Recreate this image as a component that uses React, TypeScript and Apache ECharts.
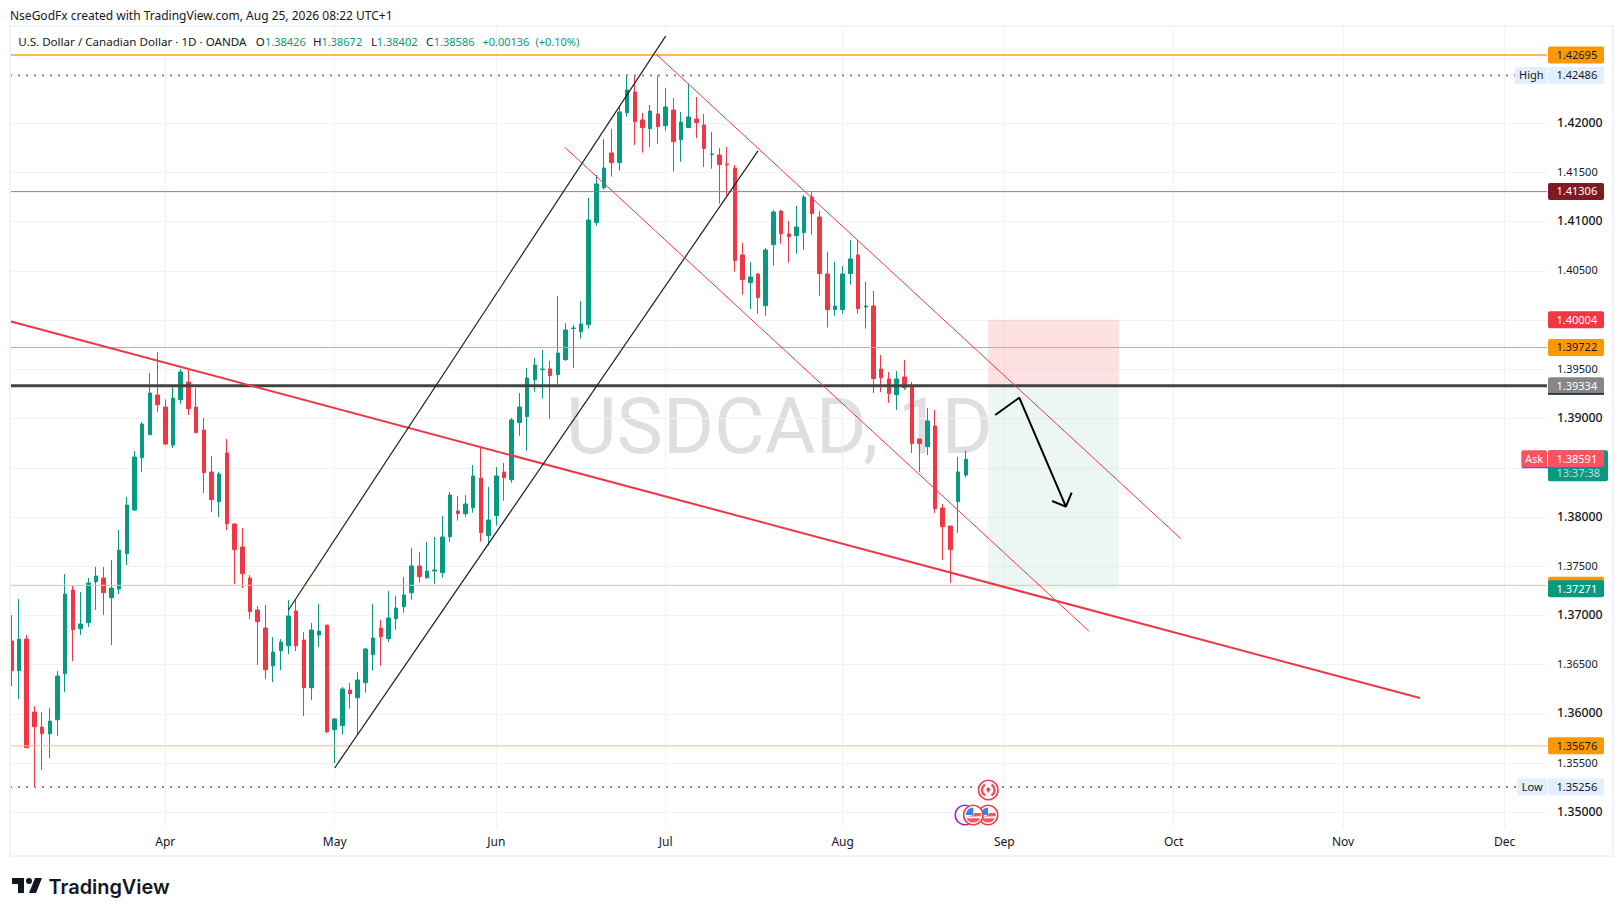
import React, { useEffect, useRef } from "react";
import * as echarts from "echarts";

const WIDTH = 1623;
const HEIGHT = 916;
const UP = "#089981";
const DOWN = "#f23645";
const FONT = '"Noto Sans", "Open Sans", sans-serif';

// Trading-day index → month label (index 0 = 2026-03-04, weekdays only)
const monthIndexes = [20, 42, 63, 85, 108, 129, 151, 173, 194];
const monthNames = ["Apr", "May", "Jun", "Jul", "Aug", "Sep", "Oct", "Nov", "Dec"];
const priceTicks = [1.35, 1.355, 1.36, 1.365, 1.37, 1.375, 1.38, 1.385, 1.39, 1.395, 1.4, 1.405, 1.41, 1.415, 1.42, 1.425];
const majorPriceLabels = [1.35, 1.36, 1.37, 1.38, 1.39, 1.41, 1.42];
const minorPriceLabels = [1.355, 1.365, 1.375, 1.395, 1.405, 1.415];

// open, close, low, high per trading day
const candles: number[][] = [
  [1.3674, 1.36438, 1.36283, 1.37004], [1.36438, 1.3676, 1.36151, 1.37167], [1.3676, 1.35656, 1.35656, 1.36801], [1.36018, 1.35869, 1.35256, 1.36079],
  [1.35866, 1.35798, 1.35429, 1.36018], [1.35798, 1.35927, 1.35551, 1.36059], [1.35941, 1.36384, 1.35775, 1.36435], [1.36408, 1.37217, 1.36222, 1.37421],
  [1.37258, 1.36855, 1.36537, 1.37299], [1.36865, 1.36913, 1.36801, 1.37238], [1.36926, 1.37329, 1.36882, 1.3738], [1.37343, 1.374, 1.37055, 1.37492],
  [1.3738, 1.37231, 1.37004, 1.37492], [1.3718, 1.37278, 1.36699, 1.37563], [1.37268, 1.37664, 1.37217, 1.37868], [1.37627, 1.38122, 1.37512, 1.38203],
  [1.38071, 1.38609, 1.38061, 1.3867], [1.38602, 1.38945, 1.38457, 1.38965], [1.38836, 1.3926, 1.38836, 1.39463], [1.39239, 1.39141, 1.39066, 1.39676],
  [1.39117, 1.38741, 1.38731, 1.39195], [1.38731, 1.39209, 1.38701, 1.39341], [1.39192, 1.39473, 1.39148, 1.39503], [1.39371, 1.391, 1.39036, 1.39493],
  [1.39117, 1.38857, 1.38857, 1.3931], [1.38884, 1.3845, 1.38244, 1.39006], [1.38457, 1.38176, 1.3805, 1.38619], [1.38155, 1.38437, 1.38, 1.38457],
  [1.3865, 1.37932, 1.37868, 1.38792], [1.37929, 1.37668, 1.37319, 1.37939], [1.37695, 1.37424, 1.37278, 1.37888], [1.3738, 1.37038, 1.36963, 1.3741],
  [1.37055, 1.36936, 1.36496, 1.37095], [1.36872, 1.36449, 1.36354, 1.37106], [1.36489, 1.36628, 1.36323, 1.3678], [1.36642, 1.3673, 1.36445, 1.3676],
  [1.36692, 1.36994, 1.36608, 1.37156], [1.37045, 1.36692, 1.36638, 1.37156], [1.3675, 1.36266, 1.35978, 1.36831], [1.36266, 1.36852, 1.3614, 1.36923],
  [1.36801, 1.36841, 1.36679, 1.37116], [1.36902, 1.35819, 1.35805, 1.36902], [1.35839, 1.35948, 1.35501, 1.35958], [1.3588, 1.36253, 1.35789, 1.36273],
  [1.36242, 1.36205, 1.36053, 1.36314], [1.36164, 1.36344, 1.35789, 1.36425], [1.36317, 1.36659, 1.36215, 1.36669], [1.36601, 1.36771, 1.36439, 1.37116],
  [1.36872, 1.36784, 1.3649, 1.36954], [1.36764, 1.36974, 1.36733, 1.37248], [1.36967, 1.37075, 1.36855, 1.37197], [1.37089, 1.37208, 1.37028, 1.3739],
  [1.37231, 1.37502, 1.3716, 1.37685], [1.37502, 1.37394, 1.37333, 1.37644], [1.37384, 1.37451, 1.37374, 1.37746], [1.37451, 1.37462, 1.37323, 1.37797],
  [1.37434, 1.37797, 1.37384, 1.3801], [1.378, 1.38224, 1.37749, 1.38254], [1.38061, 1.38034, 1.37963, 1.38213], [1.38034, 1.38132, 1.38003, 1.38224],
  [1.38095, 1.38417, 1.38044, 1.38528], [1.38396, 1.37841, 1.37749, 1.38715], [1.3781, 1.3797, 1.37709, 1.38305], [1.38014, 1.38417, 1.37912, 1.38508],
  [1.38457, 1.384, 1.38166, 1.38549], [1.38379, 1.38986, 1.38349, 1.39006], [1.38959, 1.39118, 1.38826, 1.3926], [1.39019, 1.39412, 1.38674, 1.39514],
  [1.39395, 1.39544, 1.39273, 1.39616], [1.39497, 1.39504, 1.39202, 1.39697], [1.39504, 1.39436, 1.38999, 1.39585], [1.39446, 1.39666, 1.39324, 1.40245],
  [1.39599, 1.399, 1.39588, 1.39971], [1.39914, 1.3992, 1.39517, 1.39951], [1.39883, 1.39961, 1.39812, 1.40195], [1.39954, 1.41018, 1.39914, 1.41241],
  [1.40991, 1.41384, 1.4096, 1.41475], [1.41346, 1.41546, 1.41326, 1.41841], [1.41699, 1.416, 1.41458, 1.41942], [1.416, 1.42115, 1.41519, 1.42176],
  [1.42108, 1.42339, 1.42068, 1.42484], [1.42318, 1.42017, 1.4178, 1.42486], [1.42034, 1.41956, 1.41702, 1.42105], [1.41946, 1.42125, 1.41759, 1.42186],
  [1.42095, 1.41966, 1.41793, 1.42486], [1.41976, 1.42166, 1.41925, 1.42359], [1.42135, 1.41814, 1.41509, 1.42257], [1.41834, 1.42013, 1.4161, 1.42115],
  [1.41956, 1.42064, 1.41956, 1.42403], [1.42044, 1.42007, 1.41851, 1.42267], [1.41983, 1.41743, 1.41556, 1.42095], [1.41682, 1.41688, 1.41539, 1.41912],
  [1.41678, 1.4158, 1.41184, 1.41749], [1.41587, 1.4158, 1.41265, 1.41759], [1.41546, 1.40605, 1.40493, 1.41577], [1.40662, 1.40412, 1.40259, 1.40784],
  [1.40381, 1.40439, 1.40114, 1.40591], [1.40469, 1.40229, 1.40063, 1.40479], [1.40147, 1.40713, 1.40046, 1.40733], [1.40767, 1.41099, 1.40554, 1.41119],
  [1.41109, 1.40879, 1.40777, 1.41119], [1.40876, 1.40848, 1.40584, 1.41008], [1.40859, 1.40947, 1.40676, 1.4116], [1.40889, 1.41251, 1.40716, 1.41272],
  [1.41251, 1.41082, 1.40869, 1.41306], [1.41048, 1.40473, 1.40249, 1.41109], [1.40469, 1.40107, 1.39924, 1.40693], [1.40107, 1.40144, 1.40046, 1.40591],
  [1.40107, 1.40469, 1.40066, 1.4055], [1.40473, 1.40622, 1.40361, 1.40815], [1.40662, 1.40117, 1.40066, 1.40815], [1.40134, 1.40144, 1.39914, 1.40388],
  [1.40144, 1.39406, 1.3926, 1.40296], [1.39504, 1.39416, 1.3927, 1.39646], [1.39403, 1.39254, 1.39159, 1.39474], [1.39243, 1.39403, 1.39088, 1.39484],
  [1.39423, 1.39314, 1.39291, 1.39596], [1.39331, 1.38746, 1.38651, 1.39372], [1.38793, 1.38746, 1.38458, 1.38793], [1.38715, 1.38976, 1.3863, 1.39108],
  [1.38925, 1.38085, 1.38041, 1.39088], [1.38092, 1.37902, 1.37564, 1.38133], [1.37909, 1.37669, 1.3733, 1.37909], [1.38156, 1.38458, 1.37838, 1.3861],
  [1.38426, 1.38586, 1.38402, 1.38672],
];

// Horizontal price levels
const levelTop = 1.42695;
const levelHigh = 1.42486;
const levelMaroon = 1.41306;
const levelStop = 1.40004;
const levelOrange = 1.39722;
const levelEntry = 1.39334;
const levelAsk = 1.38591;
const levelOrangeLow = 1.37306;
const levelTarget = 1.37271;
const levelBottom = 1.35676;
const levelLow = 1.35256;

// Trend drawings: [trading-day index, price]
const redLongLine = [[-0.17, 1.39988], [183, 1.36161]];
const blackUpper = [[36, 1.37055], [85, 1.42885]];
const blackLower = [[42, 1.3545], [97, 1.41719]];
const redUpper = [[83.74, 1.42704], [151.9, 1.37782]];
const redLower = [[71.95, 1.41753], [139.98, 1.36842]];
const arrowPath = [[127.82, 1.39036], [130.94, 1.39212], [137, 1.38105]];
const arrowHead = [[135.2, 1.38163], [137, 1.38105], [137.75, 1.38247]];
const positionX = [126.9, 143.9];

const headerText = "NseGodFx created with TradingView.com, Aug 25, 2026 08:22 UTC+1";
const symbolText = "U.S. Dollar / Canadian Dollar · 1D · OANDA";
const legendPairs = [
  ["O", "1.38426"],
  ["H", "1.38672"],
  ["L", "1.38402"],
  ["C", "1.38586"],
];
const legendChange = "+0.00136";
const legendPercent = "(+0.10%)";
const watermark = "USDCAD, 1D";
const countdown = "13:37:38";

const X_MIN = -0.174;
const X_MAX = 199.5;
const Y_MIN = 1.348405;
const Y_MAX = 1.429784;

function hLine(price: number, color: string, width: number, type: any = "solid") {
  return {
    type: "line",
    data: [[X_MIN, price], [X_MAX, price]],
    symbol: "none",
    silent: true,
    z: 3,
    lineStyle: { color, width, type },
  };
}
function trend(data: number[][], color: string, width: number) {
  return { type: "line", data, symbol: "none", silent: true, z: 4, lineStyle: { color, width } };
}

const LOGO_D = "M14 6H2v6h6v9h6V6Zm12 15h-7l6-15h7l-6 15Zm-7-9a3 3 0 1 0 0-6 3 3 0 0 0 0 6Z";
echarts.graphic.registerShape("tvlogo", echarts.graphic.extendPath(LOGO_D as any, {} as any) as any);

function txt(text: string, x: number, y: number, fill: string, size = 11, align = "left", weight: any = "normal", z = 20, family = FONT) {
  return {
    type: "text",
    z,
    silent: true,
    style: { text, x, y, fill, font: `${weight} ${size}px ${family}`, textAlign: align, verticalAlign: "middle", textVerticalAlign: "middle" },
  };
}
function box(x: number, y: number, width: number, height: number, fill: string, z = 19, r = 2) {
  return { type: "rect", z, silent: true, shape: { x, y, width, height, r }, style: { fill } };
}
function sector(cx: number, cy: number, r: number, r0: number, a0: number, a1: number, fill: string, z: number) {
  return {
    type: "sector",
    z,
    silent: true,
    shape: { cx, cy, r, r0, startAngle: (a0 * Math.PI) / 180, endAngle: (a1 * Math.PI) / 180, clockwise: true },
    style: { fill },
  };
}
function usIcon(cx: number, cy: number, z: number) {
  return [
    { type: "circle", z, silent: true, shape: { cx, cy, r: 9.7 }, style: { fill: "#ffffff", stroke: DOWN, lineWidth: 1.6 } },
    sector(cx, cy, 7.5, 0, 20, 160, "#f7525f", z + 0.1),
    box(cx - 7, cy + 1.5, 14, 1.8, "#ffffff", z + 0.2, 0),
    sector(cx, cy, 7.5, 0, 180, 270, "#2f86ec", z + 0.1),
    box(cx + 0.5, cy - 2, 7, 3.4, "#f7525f", z + 0.1, 0),
  ];
}
function caIcon(cx: number, cy: number, z: number) {
  return [
    { type: "circle", z, silent: true, shape: { cx, cy, r: 9.7 }, style: { fill: "#ffffff", stroke: DOWN, lineWidth: 1.6 } },
    sector(cx, cy, 7.5, 5, 120, 240, "#f7525f", z + 0.1),
    sector(cx, cy, 7.5, 5, -60, 60, "#f7525f", z + 0.1),
    { type: "polygon", z: z + 0.2, silent: true, shape: { points: [[cx, cy - 3], [cx + 2.5, cy], [cx + 0.8, cy + 0.8], [cx + 0.8, cy + 2.5], [cx - 0.8, cy + 2.5], [cx - 0.8, cy + 0.8], [cx - 2.5, cy]] }, style: { fill: "#f23645" } },
  ];
}

export default function App() {
  const ref = useRef<HTMLDivElement>(null);
  useEffect(() => {
    document.body.style.margin = "0";
    const chart = echarts.init(ref.current!, undefined, { renderer: "svg" });
    const option: any = {
      animation: false,
      backgroundColor: "#ffffff",
      grid: { left: 10, right: 76, top: 27, bottom: 88, containLabel: false },
      xAxis: {
        type: "value",
        min: X_MIN,
        max: X_MAX,
        axisLine: { show: false },
        axisTick: { show: false, customValues: monthIndexes },
        splitLine: { show: true, lineStyle: { color: "#f2f3f5", width: 1 } },
        axisLabel: {
          customValues: monthIndexes,
          color: "#131722",
          fontFamily: FONT,
          fontSize: 12,
          margin: 7,
          formatter: (v: number) => monthNames[monthIndexes.indexOf(v)] ?? "",
        },
      },
      yAxis: {
        type: "value",
        position: "right",
        min: Y_MIN,
        max: Y_MAX,
        axisLine: { show: false },
        axisTick: { show: false, customValues: priceTicks },
        splitLine: { show: true, lineStyle: { color: "#f2f3f5", width: 1 } },
        axisLabel: {
          customValues: [...majorPriceLabels, ...minorPriceLabels],
          color: "#131722",
          margin: 10,
          formatter: (v: number) => (majorPriceLabels.includes(v) ? `{major|${v.toFixed(5)}}` : `{minor|${v.toFixed(5)}}`),
          rich: {
            major: { fontFamily: FONT, fontSize: 12.3, fontWeight: 500, color: "#131722", padding: [0, 0, 2, 0] },
            minor: { fontFamily: FONT, fontSize: 11, color: "#131722", padding: [0, 0, 2, 0] },
          },
        },
      },
      series: [
        {
          type: "candlestick",
          data: candles.map((c, i) => [i, c[0], c[1], c[2], c[3]]),
          barWidth: 4,
          z: 2,
          silent: true,
          itemStyle: { color: UP, color0: DOWN, borderColor: UP, borderColor0: DOWN, borderWidth: 1 },
          markArea: {
            silent: true,
            z: 1,
            data: [
              [{ coord: [positionX[0], levelEntry], itemStyle: { color: "rgba(242,54,69,0.15)" } }, { coord: [positionX[1], levelStop] }],
              [{ coord: [positionX[0], levelTarget], itemStyle: { color: "rgba(8,153,129,0.08)" } }, { coord: [positionX[1], levelEntry] }],
            ],
          },
        },
        hLine(levelTop, "#ffb85c", 2),
        hLine(levelHigh, "#888a8f", 2, [2, 6]),
        hLine(levelMaroon, "#b5727a", 1),
        hLine(levelOrange, "#f7a13a", 1),
        hLine(levelEntry, "#434343", 3),
        hLine(levelOrangeLow, "#f7c07e", 1),
        hLine(levelBottom, "#f7c07e", 1),
        hLine(levelLow, "#888a8f", 2, [2, 6]),
        trend(redLongLine, DOWN, 2),
        trend(blackUpper, "#1f1f1f", 1.2),
        trend(blackLower, "#1f1f1f", 1.2),
        trend(redUpper, DOWN, 1),
        trend(redLower, DOWN, 1),
        trend(arrowPath, "#000000", 2),
        trend(arrowHead, "#000000", 2),
      ],
    };
    chart.setOption(option);

    const py = (p: number) => chart.convertToPixel({ yAxisIndex: 0 }, p) as number;
    const LX = 1548;
    const LW = 56;
    const LH = 17;
    const TX = 1556.5;
    const TY = -0.7;
    const priceTag = (p: number, label: string, fill: string, color: string) => [
      box(LX, py(p) - LH / 2, LW, LH, fill),
      txt(label, TX, py(p) + TY, color),
    ];

    // legend row
    const legendStartX = [255.7, 313, 371, 425.9];
    const legendValueX = [265, 321.5, 376.8, 433.8];
    const legend: any[] = [];
    legendPairs.forEach(([k, v], i) => {
      legend.push(txt(k, legendStartX[i], 41.7, "#131722", 11.6));
      legend.push(txt(v, legendValueX[i], 41.7, UP, 11));
    });

    const graphicElements: any[] = [
      // watermark behind candles
      txt(watermark, 566, 426, "rgba(120,123,134,0.24)", 78, "left", "normal", -1, "Roboto, sans-serif"),
      // pane frame
      { type: "rect", z: 30, silent: true, shape: { x: 10, y: 26, width: 1603, height: 830 }, style: { fill: "none", stroke: "#f0f3fa", lineWidth: 2 } },
      // header
      txt(headerText, 10, 15, "#131722", 12),
      txt(symbolText, 18.3, 41.7, "#131722", 11.6),
      ...legend,
      txt(legendChange, 482.4, 41.7, UP, 11),
      txt(legendPercent, 535.4, 41.7, UP, 11),
      // price tags
      ...priceTag(levelTop, "1.42695", "#ff9800", "#131722"),
      ...priceTag(levelHigh, "1.42486", "#e3effd", "#131722"),
      box(1515, py(levelHigh) - LH / 2, 32, LH, "#e3effd"),
      txt("High", 1519, py(levelHigh) + TY, "#131722"),
      ...priceTag(levelMaroon, "1.41306", "#801922", "#ffffff"),
      ...priceTag(levelStop, "1.40004", DOWN, "#ffffff"),
      ...priceTag(levelOrange, "1.39722", "#ff9800", "#131722"),
      ...priceTag(levelEntry, "1.39334", "#868686", "#ffffff"),
      box(LX, py(levelEntry) + LH / 2 - 1, LW, 1.5, "#131722", 20, 0),
      // ask + countdown
      box(LX, py(levelAsk) - LH / 2, 60, 31, UP, 18),
      txt(countdown, TX, py(levelAsk) + 14, "#b9e3db"),
      box(1522, py(levelAsk) + LH / 2 - 1, 82, 2, "#2962ff", 18, 0),
      box(1521.3, py(levelAsk) - LH / 2, 25.7, LH, "#ff5261"),
      txt("Ask", 1525, py(levelAsk) + TY, "#ffffff"),
      box(LX, py(levelAsk) - LH / 2, LW, LH, "#ff5261"),
      txt("1.38591", TX, py(levelAsk) + TY, "#ffffff"),
      // target over hidden orange level
      box(LX, py(levelOrangeLow) - LH / 2, LW, LH, "#ff9800", 18),
      ...priceTag(levelTarget, "1.37271", UP, "#ffffff"),
      ...priceTag(levelBottom, "1.35676", "#ff9800", "#131722"),
      ...priceTag(levelLow, "1.35256", "#e3effd", "#131722"),
      box(1517, py(levelLow) - LH / 2, 30, LH, "#e3effd"),
      txt("Low", 1521.7, py(levelLow) + TY, "#131722"),
      // event icons
      ...usIcon(988, 815, 21),
      { type: "circle", z: 22, silent: true, shape: { cx: 965, cy: 815, r: 9.7 }, style: { fill: "#ffffff", stroke: "#9c27b0", lineWidth: 1.6 } },
      ...usIcon(973.3, 815, 23),
      ...caIcon(988.3, 790, 21),
      // logo
      { type: "tvlogo", z: 20, silent: true, x: 10, y: 872, style: { fill: "#131722" } },
      txt("TradingView", 48.5, 887, "#131722", 19.9, "left", 600, 20, 'Inter, "Noto Sans", sans-serif'),
    ];
    chart.setOption({ graphic: { elements: graphicElements } });
    return () => chart.dispose();
  }, []);
  return <div ref={ref} style={{ position: "absolute", left: 0, top: 0, width: WIDTH, height: HEIGHT }} />;
}
